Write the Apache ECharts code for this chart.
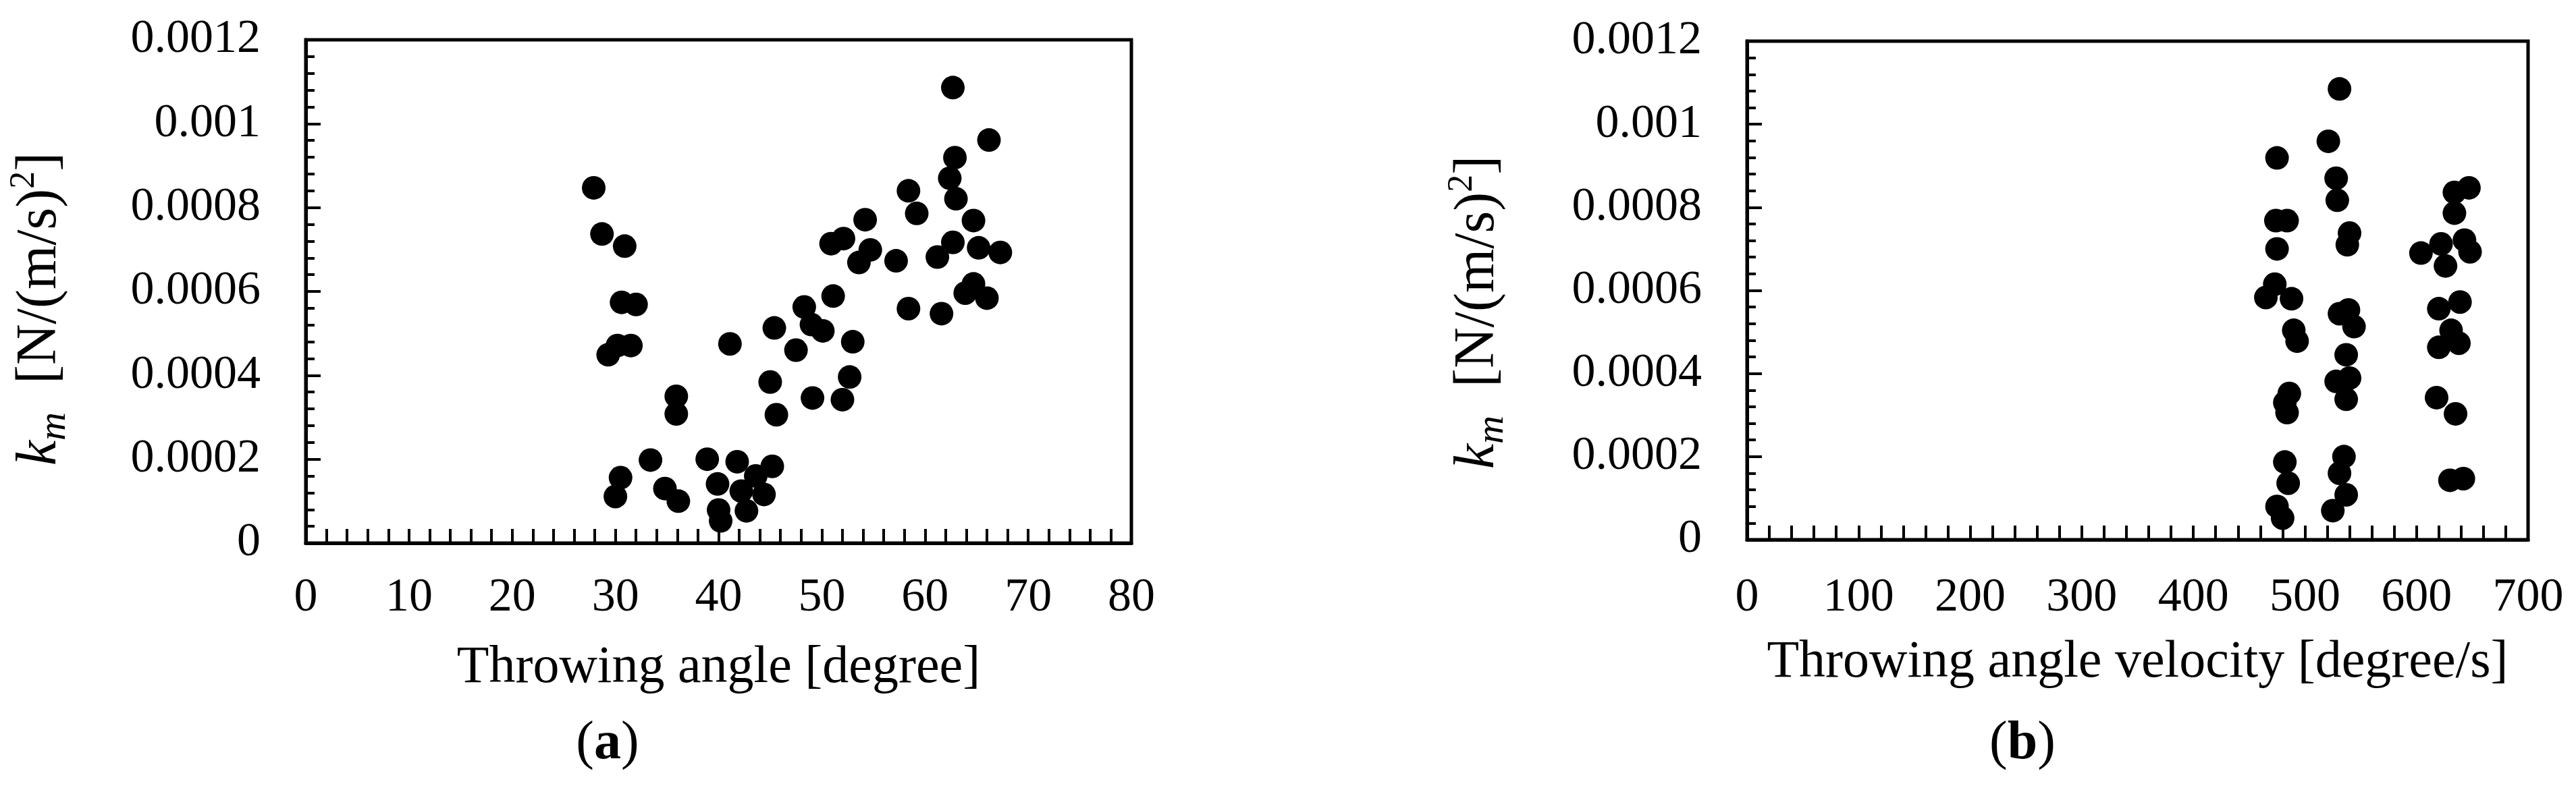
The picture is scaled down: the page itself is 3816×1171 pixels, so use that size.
<!DOCTYPE html>
<html lang="en">
<head>
    <meta charset="UTF-8">
    <title>km scatter</title>
    <style>
        html, body { margin: 0; padding: 0; background: #fff; }
        #main { width: 3816px; height: 1171px; }
    </style>
</head>
<body>
<div id="main"></div>
<script src="https://cdn.jsdelivr.net/npm/echarts@6/dist/echarts.min.js"></script>
<script>
    // (a) throwing angle [degree] -> km
    const angleDeg = [27.9, 28.7, 30.9, 30.6, 32.0, 29.3, 30.2, 31.5, 35.9, 35.9, 33.4, 30.5, 30.0, 34.8, 36.1,
        38.9, 39.9, 40.0, 40.2, 41.8, 41.1, 42.7, 42.2, 43.6, 44.4, 45.2, 45.0, 45.6, 45.4, 47.5, 48.3, 49.0,
        50.1, 49.1, 51.1, 50.9, 52.1, 53.0, 52.7, 52.0, 53.6, 54.7, 54.2, 57.2, 58.4, 59.2, 58.4, 61.6, 61.2,
        62.7, 62.7, 62.9, 62.4, 63.0, 64.7, 65.2, 67.3, 66.2, 64.7, 63.9, 66.0];
    const angleKm = [0.000847, 0.000737, 0.000708, 0.000574, 0.000569, 0.000449, 0.000471, 0.000471, 0.00035,
        0.000308, 0.000198, 0.000156, 0.000111, 0.00013, 0.0001, 0.0002, 0.000141, 0.000079, 0.000053, 0.000194,
        0.000475, 0.000077, 0.000124, 0.00016, 0.000116, 0.000183, 0.000384, 0.000306, 0.000513, 0.00046,
        0.000563, 0.000521, 0.000506, 0.000346, 0.000589, 0.000714, 0.000726, 0.00048, 0.000396, 0.000342,
        0.000669, 0.000699, 0.000771, 0.000673, 0.00084, 0.000786, 0.000559, 0.000547, 0.000682, 0.000717,
        0.001086, 0.000919, 0.00087, 0.000821, 0.000769, 0.000704, 0.000693, 0.000961, 0.000618, 0.000596,
        0.000584];

    // (b) throwing angle velocity [degree/s] -> km
    const velDeg = [531, 521, 475, 528, 529, 474, 484, 475, 634, 647, 634, 540, 538, 604, 622, 626, 643, 648,
        465, 473, 488, 490, 493, 531, 539, 544, 537, 528, 540, 537, 620, 639, 631, 620, 638, 618, 635, 486,
        482, 484, 482, 485, 475, 480, 535, 531, 537, 525, 630, 642];
    const velKm = [0.001085, 0.000959, 0.000919, 0.00087, 0.000817, 0.000768, 0.000768, 0.0007, 0.000836,
        0.000847, 0.000786, 0.000738, 0.00071, 0.00069, 0.000712, 0.000659, 0.000721, 0.000693, 0.000583,
        0.000615, 0.00058, 0.000504, 0.000478, 0.000544, 0.000553, 0.000513, 0.000445, 0.000381, 0.000389,
        0.000338, 0.000556, 0.000572, 0.000504, 0.000463, 0.000473, 0.000342, 0.000303, 0.000352, 0.00033,
        0.000306, 0.000187, 0.000136, 0.00008, 0.000052, 0.0002, 0.00016, 0.000108, 0.00007, 0.000143,
        0.000147];

    const xTitles = ['Throwing angle [degree]', 'Throwing angle velocity [degree/s]'];
    const panelTags = ['a', 'b'];

    const FONT = 'Liberation Serif';
    const dom = document.getElementById('main');
    const myChart = echarts.init(dom, null, {renderer: 'canvas'});

    function zip(xs, ys) {
        return xs.map((x, i) => [x, ys[i]]);
    }

    function xAxisOf(i, max, interval, margin, nameGap) {
        return {
            gridIndex: i, type: 'value', min: 0, max: max, interval: interval,
            name: xTitles[i], nameLocation: 'middle', nameGap: nameGap,
            nameTextStyle: {fontFamily: FONT, fontSize: 78, color: '#000'},
            axisLine: {show: true, lineStyle: {color: '#000', width: 5}},
            axisTick: {show: true, inside: true, length: 21, lineStyle: {color: '#000', width: 4}},
            minorTick: {show: true, splitNumber: 5, length: 21, lineStyle: {color: '#000', width: 4}},
            axisLabel: {fontFamily: FONT, fontSize: 70, color: '#000', margin: margin},
            splitLine: {show: false}
        };
    }

    function yAxisOf(i) {
        return {
            gridIndex: i, type: 'value', min: 0, max: 0.0012, interval: 0.0002,
            axisLine: {show: true, lineStyle: {color: '#000', width: 5}},
            axisTick: {show: true, inside: true, length: 22, lineStyle: {color: '#000', width: 4}},
            minorTick: {show: true, splitNumber: 5, length: 13, lineStyle: {color: '#000', width: 4}},
            axisLabel: {
                fontFamily: FONT, fontSize: 70, color: '#000', margin: 67,
                formatter: v => String(+v.toFixed(4))
            },
            splitLine: {show: false}
        };
    }

    // y axis title: k_m  [N/(m/s)^2], rotated
    function yTitle(x, y) {
        return {
            type: 'text', x: x, y: y, rotation: Math.PI / 2,
            style: {
                text: '{k|k}{m|m}{t|  [N/(m/s)}{s|2}{t|]}',
                align: 'center', verticalAlign: 'middle', fill: '#000',
                rich: {
                    k: {fontFamily: FONT, fontStyle: 'italic', fontSize: 84, lineHeight: 100, fill: '#000'},
                    m: {fontFamily: FONT, fontStyle: 'italic', fontSize: 58, lineHeight: 58, verticalAlign: 'bottom', fill: '#000'},
                    t: {fontFamily: FONT, fontSize: 84, lineHeight: 100, fill: '#000'},
                    s: {fontFamily: FONT, fontSize: 52, lineHeight: 52, verticalAlign: 'top', fill: '#000'}
                }
            }
        };
    }

    function tag(x, y, letter) {
        return {
            type: 'text', x: x, y: y,
            style: {
                text: '{p|(}{b|' + letter + '}{p|)}',
                align: 'center', verticalAlign: 'middle',
                rich: {
                    p: {fontFamily: FONT, fontSize: 80, fill: '#000'},
                    b: {fontFamily: FONT, fontSize: 80, fontWeight: 'bold', fill: '#000'}
                }
            }
        };
    }

    const option = {
        backgroundColor: '#fff',
        animation: false,
        grid: [
            {left: 453, top: 59, width: 1223, height: 746, show: true, borderColor: '#000', borderWidth: 5},
            {left: 2588, top: 61, width: 1157, height: 739, show: true, borderColor: '#000', borderWidth: 5}
        ],
        xAxis: [
            xAxisOf(0, 80, 10, 47, 147),
            xAxisOf(1, 700, 100, 52, 144)
        ],
        yAxis: [yAxisOf(0), yAxisOf(1)],
        series: [
            {
                type: 'scatter', xAxisIndex: 0, yAxisIndex: 0,
                data: zip(angleDeg, angleKm),
                symbol: 'circle', symbolSize: 35,
                itemStyle: {color: '#000', opacity: 1}
            },
            {
                type: 'scatter', xAxisIndex: 1, yAxisIndex: 1,
                data: zip(velDeg, velKm),
                symbol: 'circle', symbolSize: 35,
                itemStyle: {color: '#000', opacity: 1}
            }
        ],
        graphic: [
            yTitle(60, 458),
            yTitle(2190, 463),
            tag(900, 1103, panelTags[0]),
            tag(2996, 1103, panelTags[1])
        ]
    };

    myChart.setOption(option);
</script>
</body>
</html>
